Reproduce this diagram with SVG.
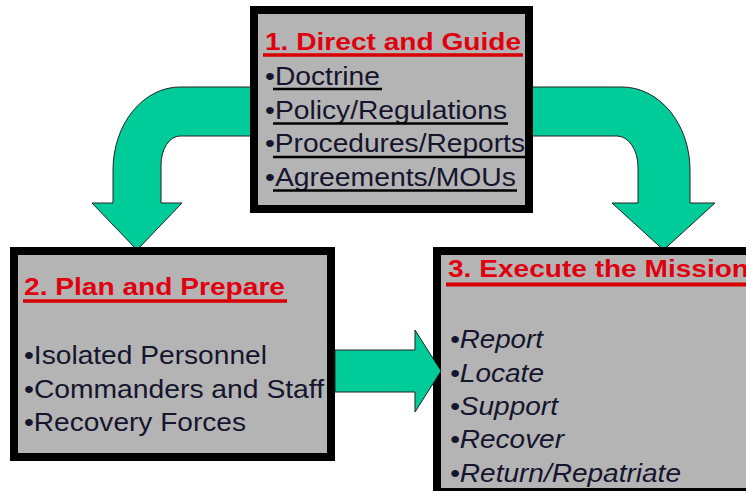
<svg xmlns="http://www.w3.org/2000/svg" width="746" height="491" viewBox="0 0 746 491">
<style>
.box{fill:#b4b4b4;stroke:#000;stroke-width:8}
.arrow{fill:#00cc99;stroke:#222;stroke-width:1}
.title{font-family:"Liberation Sans",Arial,sans-serif;font-weight:bold;font-size:24px;fill:#e00010}
.item{font-family:"Liberation Sans",Arial,sans-serif;font-size:25px;fill:#15152e}
.ital{font-style:italic}
.tu{stroke:#d80000;stroke-width:3.5}
.iu{stroke:#000;stroke-width:2.5}
</style>
<rect width="746" height="491" fill="#fff"/>
<g id="connectors">
<path id="arrow-1-2" class="arrow" d="M252 87 L180 87 A67 83 0 0 0 113 170 L113 203 L92 203 L137 250 L182 203 L161 203 L161 165 A19 29 0 0 1 180 136 L252 136 Z"/>
<path id="arrow-1-3" class="arrow" d="M531 87 L622 87 A68 83 0 0 1 690 170 L690 203 L715 203 L663.5 250 L612 203 L638 203 L638 167 A21 31 0 0 0 617 136 L531 136 Z"/>
</g>
<g id="node-direct">
<rect class="box" x="254" y="10" width="275" height="199"/>
<text class="title" x="265" y="50" textLength="256" lengthAdjust="spacingAndGlyphs">1. Direct and Guide</text>
<line class="tu" x1="263" y1="55" x2="523" y2="55"/>
<text class="item" x="265" y="85" textLength="115" lengthAdjust="spacingAndGlyphs">•Doctrine</text>
<line class="iu" x1="273" y1="89" x2="382" y2="89"/>
<text class="item" x="265" y="118.5" textLength="242" lengthAdjust="spacingAndGlyphs">•Policy/Regulations</text>
<line class="iu" x1="273" y1="123.5" x2="508" y2="123.5"/>
<text class="item" x="265" y="152" textLength="260" lengthAdjust="spacingAndGlyphs">•Procedures/Reports</text>
<line class="iu" x1="273" y1="157" x2="526" y2="157"/>
<text class="item" x="265" y="185.5" textLength="251" lengthAdjust="spacingAndGlyphs">•Agreements/MOUs</text>
<line class="iu" x1="273" y1="190.5" x2="517" y2="190.5"/>
</g>
<g id="node-plan">
<rect class="box" x="14" y="251" width="317" height="206"/>
<text class="title" x="24" y="295" textLength="261" lengthAdjust="spacingAndGlyphs">2. Plan and Prepare</text>
<line class="tu" x1="23" y1="301" x2="287" y2="301"/>
<text class="item" x="24" y="364" textLength="243" lengthAdjust="spacingAndGlyphs">•Isolated Personnel</text>
<text class="item" x="24" y="397.5" textLength="300" lengthAdjust="spacingAndGlyphs">•Commanders and Staff</text>
<text class="item" x="24" y="431" textLength="222" lengthAdjust="spacingAndGlyphs">•Recovery Forces</text>
</g>
<g id="node-execute">
<rect class="box" x="437" y="251" width="330" height="241"/>
<text class="title" x="448" y="277" textLength="301" lengthAdjust="spacingAndGlyphs">3. Execute the Mission</text>
<line class="tu" x1="446" y1="284.5" x2="746" y2="284.5" style="stroke-width:4"/>
<text class="item ital" x="450" y="348.3" textLength="93" lengthAdjust="spacingAndGlyphs">•Report</text>
<text class="item ital" x="450" y="381.7" textLength="94" lengthAdjust="spacingAndGlyphs">•Locate</text>
<text class="item ital" x="450" y="415" textLength="108" lengthAdjust="spacingAndGlyphs">•Support</text>
<text class="item ital" x="450" y="448.3" textLength="114" lengthAdjust="spacingAndGlyphs">•Recover</text>
<text class="item ital" x="450" y="481.7" textLength="231" lengthAdjust="spacingAndGlyphs">•Return/Repatriate</text>
</g>
<g id="connectors-front">
<path id="arrow-2-3" class="arrow" d="M335 350 L415 350 L415 330 L441 371 L415 412 L415 392 L335 392 Z"/>
</g>
</svg>
